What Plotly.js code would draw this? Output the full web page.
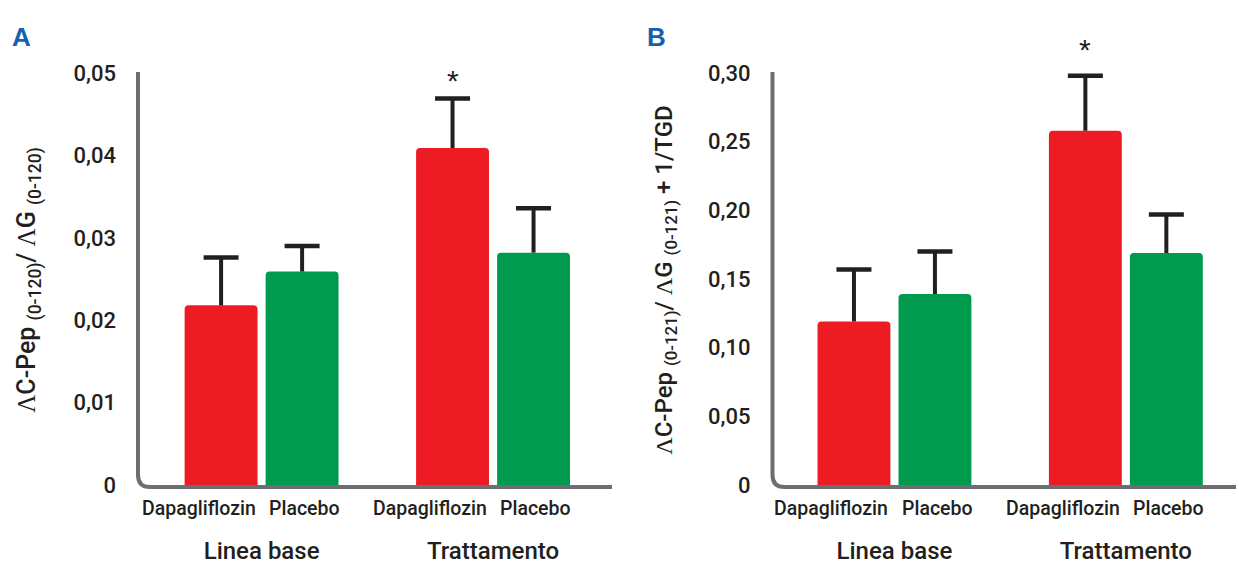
<!DOCTYPE html>
<html>
<head>
<meta charset="utf-8">
<script src="https://cdn.plot.ly/plotly-3.0.1.min.js"></script>
<style>html,body{margin:0;padding:0;background:#fff;}#chart{width:1239px;height:566px;}</style>
</head>
<body>
<div id="chart"></div>
<script>
// ---- data ----
const categories = ['Linea base', 'Trattamento'];
const seriesNames = ['Dapagliflozin', 'Placebo'];
const dapaA = [0.0218, 0.0409];
const dapaErrA = [0.0058, 0.0060];
const placA = [0.0259, 0.0282];
const placErrA = [0.0031, 0.0054];
const dapaB = [0.119, 0.258];
const dapaErrB = [0.038, 0.040];
const placB = [0.139, 0.169];
const placErrB = [0.031, 0.028];
const tickValsA = [0, 0.01, 0.02, 0.03, 0.04, 0.05];
const tickTextA = ['0', '0,01', '0,02', '0,03', '0,04', '0,05'];
const tickValsB = [0, 0.05, 0.10, 0.15, 0.20, 0.25, 0.30];
const tickTextB = ['0', '0,05', '0,10', '0,15', '0,20', '0,25', '0,30'];
const LAM = '<span style="font-family:\'Liberation Serif\';font-weight:400">Λ</span>';
const titleA = LAM + 'C-Pep <sub>(0-120)</sub>/ ' + LAM + 'G <sub>(0-120)</sub>';
const titleB = LAM + 'C-Pep <sub>(0-121)</sub>/ ' + LAM + 'G <sub>(0-121)</sub> + 1/TGD';

// ---- style ----
const RED = '#ed1c24', GREEN = '#009a4e', INK = '#231f20', AXIS = '#6d6e71';
const FONT = "Roboto, 'DejaVu Sans Condensed', sans-serif";
const W = 1239, H = 566;
const px = v => v / W, py = v => 1 - v / H;
const domA = [px(138), px(612)], domB = [px(772.5), px(1236)];
const domY = [py(487), py(73)];

function barTrace(y, err, name, color, xa, ya) {
  return {
    type: 'bar', x: categories, y: y, name: name, xaxis: xa, yaxis: ya,
    offsetgroup: name, alignmentgroup: xa,
    marker: {color: color, cornerradius: 4, line: {width: 0}},
    error_y: {type: 'data', symmetric: false, array: err, arrayminus: err.map(() => 0),
              color: INK, thickness: 4, width: 0},
    hoverinfo: 'y', showlegend: false
  };
}
function capTrace(y, err, name, xa, ya) {
  return {
    type: 'scatter', mode: 'markers', x: categories, y: y.map((v, i) => v + err[i]),
    name: name + ' SD', xaxis: xa, yaxis: ya, offsetgroup: name, alignmentgroup: xa,
    marker: {symbol: 'line-ew', size: 25, color: INK, line: {color: INK, width: 4.5}},
    hoverinfo: 'skip', showlegend: false, cliponaxis: false
  };
}

const data = [
  barTrace(dapaA, dapaErrA, seriesNames[0], RED, 'x', 'y'),
  barTrace(placA, placErrA, seriesNames[1], GREEN, 'x', 'y'),
  barTrace(dapaB, dapaErrB, seriesNames[0], RED, 'x2', 'y2'),
  barTrace(placB, placErrB, seriesNames[1], GREEN, 'x2', 'y2'),
  capTrace(dapaA, dapaErrA, seriesNames[0], 'x', 'y'),
  capTrace(placA, placErrA, seriesNames[1], 'x', 'y'),
  capTrace(dapaB, dapaErrB, seriesNames[0], 'x2', 'y2'),
  capTrace(placB, placErrB, seriesNames[1], 'x2', 'y2')
];

const xCommon = {
  type: 'category', showline: false, showgrid: false, zeroline: false, ticks: '',
  tickfont: {family: FONT, size: 24, color: INK, weight: 500}, ticklabelstandoff: 47, fixedrange: true
};
const yCommon = {
  showline: false, showgrid: false, zeroline: false, ticks: '', tickmode: 'array',
  tickfont: {family: FONT, size: 22, color: INK, weight: 500}, ticklabelstandoff: 21, fixedrange: true
};

function axisPath(d) {
  const x0 = d[0], x1 = d[1];
  const yb = domY[0], yt = py(72);
  const rx = 12 / W, ry = 12 / H;
  return `M ${x0},${yt} L ${x0},${yb + ry} Q ${x0},${yb} ${x0 + rx},${yb} L ${x1},${yb}`;
}

// label positions: Dapagliflozin ends at its bar's right edge, Placebo centred under its bar
const slot = 0.35, barW = 0.315;
const annotations = [];
const subFont = {family: FONT, size: 19.5, color: INK, weight: 500};
['x', 'x2'].forEach(xa => {
  categories.forEach((c, i) => {
    annotations.push({
      xref: xa, yref: 'paper', x: i - slot / 2 + barW / 2, y: domY[0], yanchor: 'top', xanchor: 'right',
      yshift: -8, text: seriesNames[0], showarrow: false, font: subFont
    });
    annotations.push({
      xref: xa, yref: 'paper', x: i + slot / 2 + 0.01, y: domY[0], yanchor: 'top', xanchor: 'center',
      yshift: -8, text: seriesNames[1], showarrow: false, font: subFont
    });
  });
});
const starFont = {family: 'Liberation Sans, Arial, sans-serif', size: 30, color: INK};
annotations.push({xref: 'x', yref: 'y', x: 1 - slot / 2, y: dapaA[1] + dapaErrA[1], yanchor: 'bottom',
  yshift: 0, text: '*', showarrow: false, font: starFont});
annotations.push({xref: 'x2', yref: 'y2', x: 1 - slot / 2, y: dapaB[1] + dapaErrB[1], yanchor: 'bottom',
  yshift: 8, text: '*', showarrow: false, font: starFont});
annotations.push({xref: 'paper', yref: 'paper', x: px(10), y: py(20), xanchor: 'left', yanchor: 'top',
  text: '<b>A</b>', showarrow: false, font: {family: 'Liberation Sans, Arial, sans-serif', size: 26, color: '#1462ad'}});
annotations.push({xref: 'paper', yref: 'paper', x: px(645), y: py(20), xanchor: 'left', yanchor: 'top',
  text: '<b>B</b>', showarrow: false, font: {family: 'Liberation Sans, Arial, sans-serif', size: 26, color: '#1462ad'}});

const layout = {
  width: W, height: H, margin: {l: 0, r: 0, t: 0, b: 0},
  paper_bgcolor: '#fff', plot_bgcolor: 'rgba(0,0,0,0)',
  barmode: 'group', bargap: 0.3, bargroupgap: 0.1,
  scattermode: 'group', scattergap: 0.3,
  xaxis: Object.assign({}, xCommon, {domain: domA, range: [-0.534, 1.514], anchor: 'y'}),
  xaxis2: Object.assign({}, xCommon, {domain: domB, range: [-0.527, 1.476], anchor: 'y2'}),
  yaxis: Object.assign({}, yCommon, {domain: domY, range: [-0.000243, 0.05], anchor: 'x',
    tickvals: tickValsA, ticktext: tickTextA,
    title: {text: titleA, standoff: 30, font: {family: FONT, size: 25, color: INK, weight: 500}}}),
  yaxis2: Object.assign({}, yCommon, {domain: domY, range: [-0.00146, 0.30], anchor: 'x2',
    tickvals: tickValsB, ticktext: tickTextB,
    title: {text: titleB, standoff: 28, font: {family: FONT, size: 24, color: INK, weight: 500}}}),
  shapes: [
    {type: 'path', xref: 'paper', yref: 'paper', path: axisPath(domA), line: {color: AXIS, width: 4}, layer: 'above'},
    {type: 'path', xref: 'paper', yref: 'paper', path: axisPath(domB), line: {color: AXIS, width: 4}, layer: 'above'}
  ],
  annotations: annotations
};

Plotly.newPlot('chart', data, layout, {displayModeBar: false, staticPlot: true});
</script>
</body>
</html>
